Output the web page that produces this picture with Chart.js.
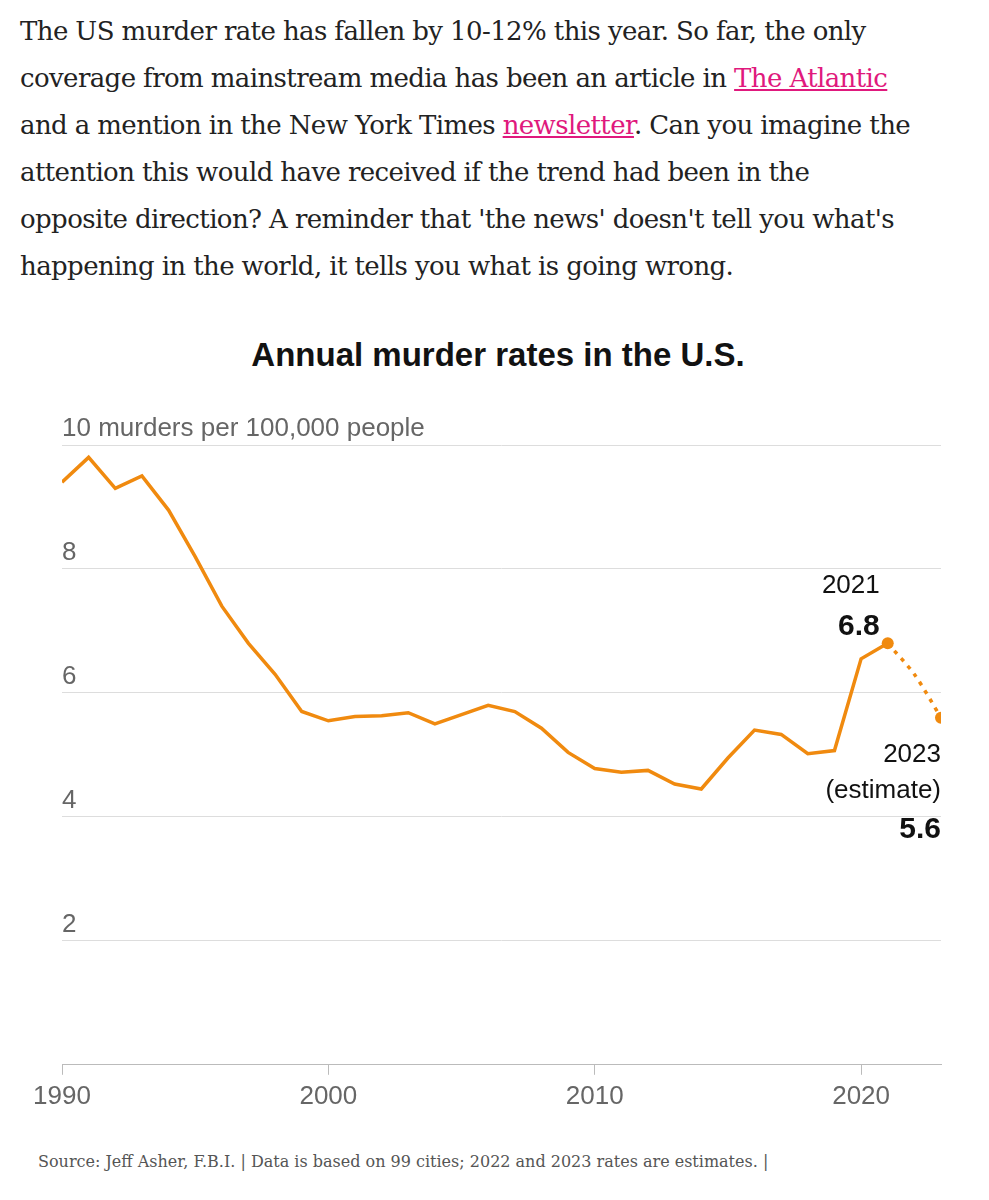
<!DOCTYPE html>
<html><head><meta charset="utf-8">
<script src="https://cdn.jsdelivr.net/npm/chart.js@4"></script>
<style>
body{margin:0;background:#fff;width:989px;height:1200px;position:relative;overflow:hidden}
#txt{position:absolute;left:20px;top:8px;font-family:"DejaVu Serif",Georgia,serif;font-size:26px;line-height:47px;color:#222;letter-spacing:-0.6px;white-space:nowrap}
#txt a{color:#e0197d;text-decoration:underline}
#title{position:absolute;left:0;width:996px;top:336px;text-align:center;font-family:"Liberation Sans",Arial,sans-serif;font-weight:bold;font-size:33px;color:#121212}
#wrap{position:absolute;left:0;top:400px;width:989px;height:718px}
#src{position:absolute;left:38px;top:1152px;font-family:"DejaVu Serif",serif;font-size:16px;color:#555}
</style></head><body>
<div id="txt">The US murder rate has fallen by 10-12% this year. So far, the only<br>coverage from mainstream media has been an article in <a>The Atlantic</a><br>and a mention in the New York Times <a>newsletter</a>. Can you imagine the<br>attention this would have received if the trend had been in the<br>opposite direction? A reminder that 'the news' doesn't tell you what's<br>happening in the world, it tells you what is going wrong.</div>
<div id="title">Annual murder rates in the U.S.</div>
<div id="wrap"><canvas id="c"></canvas></div>
<div id="src">Source: Jeff Asher, F.B.I. | Data is based on 99 cities; 2022 and 2023 rates are estimates. |</div>
<script>
const years=[1990,1991,1992,1993,1994,1995,1996,1997,1998,1999,2000,2001,2002,2003,2004,2005,2006,2007,2008,2009,2010,2011,2012,2013,2014,2015,2016,2017,2018,2019,2020,2021];
const rates=[9.4,9.8,9.3,9.5,8.95,8.2,7.4,6.8,6.3,5.7,5.55,5.62,5.63,5.68,5.5,5.65,5.8,5.7,5.43,5.04,4.78,4.72,4.75,4.53,4.45,4.95,5.4,5.33,5.02,5.07,6.55,6.8];
const estYears=[2021,2022,2023];
const estRates=[6.8,6.3,5.6];
const yTicks=[2,4,6,8,10];
const xTicks=[1990,2000,2010,2020];
const orange='#f08a0f';
const sans='"Liberation Sans",Arial,sans-serif';
const overlay={id:'ov',afterDraw(ch){
 const c=ch.ctx,x=ch.scales.x,y=ch.scales.y,a=ch.chartArea;
 c.save();c.fillStyle='#666';c.font='26px '+sans;c.textBaseline='bottom';c.textAlign='left';
 yTicks.forEach(v=>{c.fillText(v===10?'10 murders per 100,000 people':String(v),a.left,y.getPixelForValue(v)-3);});
 c.fillStyle='#111';c.textAlign='right';
 const px=x.getPixelForValue(2021),py=y.getPixelForValue(6.8);
 c.font='26px '+sans;c.fillText('2021',px-8,py-45);
 c.font='bold 30px '+sans;c.fillText('6.8',px-8,py-2);
 const qx=x.getPixelForValue(2023),qy=y.getPixelForValue(5.6);
 c.font='26px '+sans;c.fillText('2023',qx,qy+50);c.fillText('(estimate)',qx,qy+86);
 c.font='bold 30px '+sans;c.fillText('5.6',qx,qy+127);
 c.restore();}};
new Chart(document.getElementById('c'),{type:'line',
 data:{datasets:[
  {data:years.map((v,i)=>({x:v,y:rates[i]})),borderColor:orange,borderWidth:3.5,pointRadius:0,tension:0},
  {data:estYears.map((v,i)=>({x:v,y:estRates[i]})),borderColor:orange,borderWidth:3.5,borderDash:[4,6],tension:0.3,
   pointRadius:[6,0,6],pointBackgroundColor:orange,pointBorderWidth:0}]},
 options:{animation:false,responsive:true,maintainAspectRatio:false,
  layout:{padding:{left:62,right:48,top:45,bottom:0}},
  plugins:{legend:{display:false},tooltip:{enabled:false}},
  scales:{
   x:{type:'linear',min:1990,max:2023,afterBuildTicks:s=>{s.ticks=xTicks.map(v=>({value:v}));},
     grid:{display:true,drawOnChartArea:false,drawTicks:true,tickLength:10,color:'#bbb'},border:{color:'#bbb'},
     ticks:{color:'#666',font:{size:26,family:sans},padding:6,maxRotation:0,callback:v=>String(v)}},
   y:{min:0,max:10,afterBuildTicks:s=>{s.ticks=[0,...yTicks].map(v=>({value:v}));},
     grid:{color:'#ddd',drawTicks:false},border:{display:false},ticks:{display:false}}}},
 plugins:[overlay]});
</script></body></html>
